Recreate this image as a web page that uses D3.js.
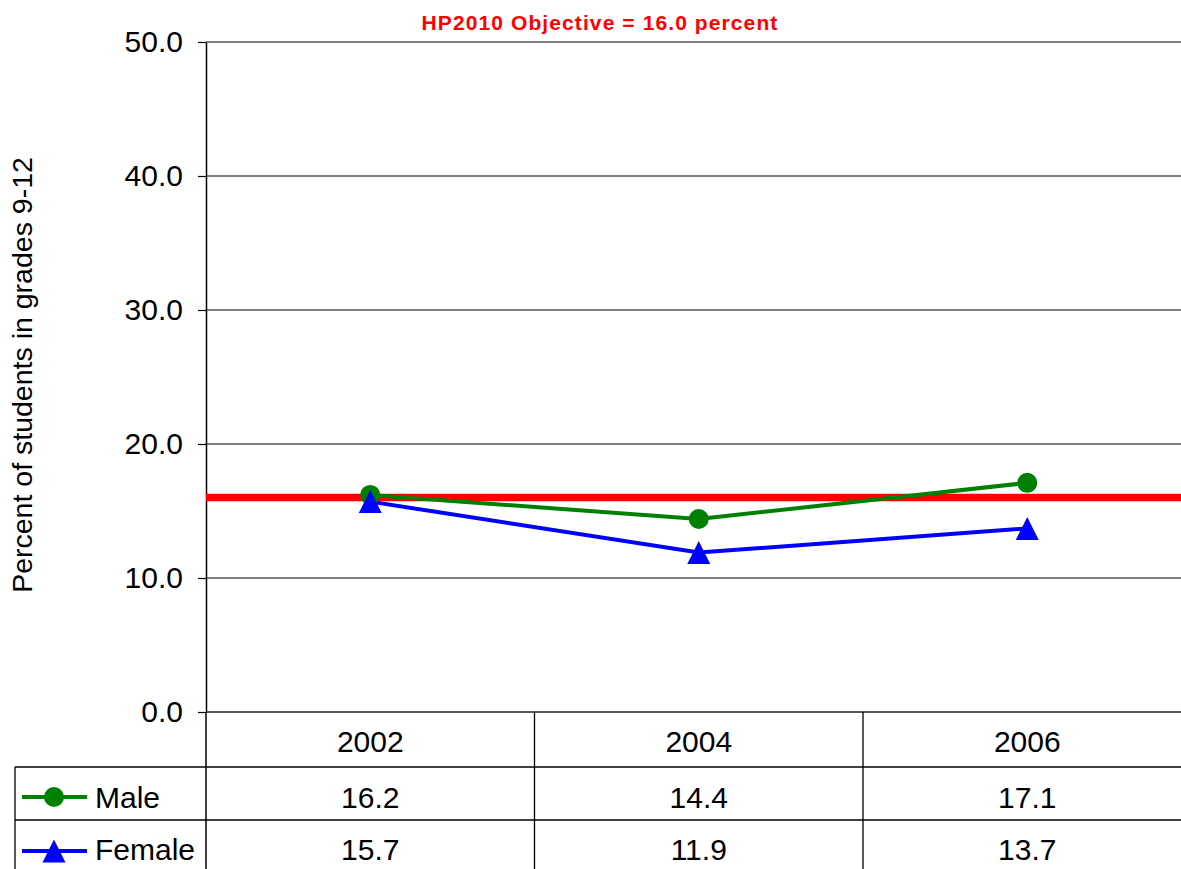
<!DOCTYPE html>
<html>
<head>
<meta charset="utf-8">
<script src="https://cdn.jsdelivr.net/npm/d3@7"></script>
<style>
  html, body { margin: 0; padding: 0; background: #fff; }
  svg { display: block; font-family: "Liberation Sans", Arial, sans-serif; }
</style>
</head>
<body>
<svg id="chart" width="1181" height="869"></svg>
<script>
// Survey years (table columns)
const years = ["2002", "2004", "2006"];
// Percent of students in grades 9-12, by sex
const maleValues = [16.2, 14.4, 17.1];
const femaleValues = [15.7, 11.9, 13.7];
// Healthy People 2010 target
const objective = 16.0;
const objectiveLabel = "HP2010 Objective = 16.0 percent";
const yTicks = [0, 10, 20, 30, 40, 50];
const yLabel = "Percent of students in grades 9-12";

const series = [
  { name: "Male", values: maleValues, color: "#008000", marker: "circle" },
  { name: "Female", values: femaleValues, color: "#0000ff", marker: "triangle" }
];

const svg = d3.select("#chart");
const plotLeft = 206, plotRight = 1191.5, plotTop = 42, plotBottom = 712;
const rowBottoms = [767, 820];
const tableLeft = 15;
const FONT = "Liberation Sans, Arial, sans-serif";

const x = d3.scaleBand().domain(years).range([plotLeft, plotRight]);
const y = d3.scaleLinear().domain([0, 50]).range([plotBottom, plotTop]);

// Horizontal gridlines
svg.append("g").selectAll("line").data(yTicks.filter(t => t > 0)).join("line")
  .attr("x1", plotLeft).attr("x2", 1181)
  .attr("y1", d => y(d)).attr("y2", d => y(d))
  .attr("stroke", "#808080").attr("stroke-width", 2);

// Y axis
const yAxis = d3.axisLeft(y).tickValues(yTicks).tickFormat(d3.format(".1f"))
  .tickSize(8).tickSizeOuter(0).tickPadding(15);
const yg = svg.append("g").attr("transform", `translate(${plotLeft},0)`).call(yAxis);
yg.select(".domain").attr("stroke", "#000").attr("stroke-width", 1.5);
yg.selectAll(".tick line").attr("stroke", "#000").attr("stroke-width", 1.2);
yg.selectAll(".tick text").attr("font-size", 30).attr("fill", "#000").attr("font-family", FONT);

// Y axis title
svg.append("text")
  .attr("transform", `translate(32,375) rotate(-90)`)
  .attr("text-anchor", "middle")
  .attr("font-size", 28.5).attr("fill", "#000")
  .text(yLabel);

// Objective line and label
svg.append("line")
  .attr("x1", plotLeft).attr("x2", 1181)
  .attr("y1", y(objective)).attr("y2", y(objective))
  .attr("stroke", "#ff0000").attr("stroke-width", 7.5);
svg.append("text")
  .attr("x", 600).attr("y", 30)
  .attr("text-anchor", "middle")
  .attr("font-size", 21).attr("font-weight", "bold").attr("fill", "#ff0000")
  .attr("letter-spacing", 1.1)
  .text(objectiveLabel);

// Series lines and markers
const cx = d => x(d) + x.bandwidth() / 2;
const line = d3.line().x((v, i) => cx(years[i])).y(v => y(v));
// Triangle marker, 23px wide and tall, centred on its point
const triPath = "M0,-11.5L11.5,11.5L-11.5,11.5Z";

function marker(g, kind, px, py, color) {
  if (kind === "circle") {
    g.append("circle").attr("cx", px).attr("cy", py).attr("r", 10).attr("fill", color);
  } else {
    g.append("path").attr("d", triPath).attr("transform", `translate(${px},${py})`).attr("fill", color);
  }
}

series.forEach(s => {
  svg.append("path")
    .attr("d", line(s.values))
    .attr("fill", "none").attr("stroke", s.color).attr("stroke-width", 4);
});
series.forEach(s => {
  const g = svg.append("g");
  s.values.forEach((v, i) => marker(g, s.marker, cx(years[i]), y(v), s.color));
});

// Data table below the plot
const tbl = svg.append("g").attr("stroke", "#000").attr("stroke-width", 1.3);
tbl.append("line").attr("x1", plotLeft).attr("x2", 1181).attr("y1", plotBottom).attr("y2", plotBottom).attr("stroke-width", 1.5).attr("stroke", "#222");
rowBottoms.forEach(rb => {
  tbl.append("line").attr("x1", tableLeft).attr("x2", 1181).attr("y1", rb).attr("y2", rb);
});
tbl.append("line").attr("x1", tableLeft).attr("x2", tableLeft).attr("y1", rowBottoms[0]).attr("y2", 869);
tbl.append("line").attr("x1", plotLeft).attr("x2", plotLeft).attr("y1", plotBottom).attr("y2", 869).attr("stroke-width", 1.5);
years.slice(1).forEach(yr => {
  tbl.append("line").attr("x1", x(yr)).attr("x2", x(yr)).attr("y1", plotBottom).attr("y2", 869);
});

// Year header row
svg.append("g").selectAll("text").data(years).join("text")
  .attr("x", d => cx(d)).attr("y", 752)
  .attr("text-anchor", "middle").attr("font-size", 30).attr("fill", "#000")
  .text(d => d);

// Value rows with legend keys
const rowMid = [797, 851];
const rowBase = [808, 860];
series.forEach((s, r) => {
  svg.append("g").selectAll("text").data(s.values).join("text")
    .attr("x", (v, i) => cx(years[i])).attr("y", rowBase[r])
    .attr("text-anchor", "middle").attr("font-size", 30).attr("fill", "#000")
    .text(v => v.toFixed(1));

  const key = svg.append("g");
  key.append("line").attr("x1", 22).attr("x2", 87).attr("y1", rowMid[r]).attr("y2", rowMid[r])
    .attr("stroke", s.color).attr("stroke-width", 4);
  marker(key, s.marker, 54, rowMid[r], s.color);
  key.append("text").attr("x", 95).attr("y", rowBase[r])
    .attr("font-size", 30).attr("fill", "#000").text(s.name);
});
</script>
</body>
</html>
